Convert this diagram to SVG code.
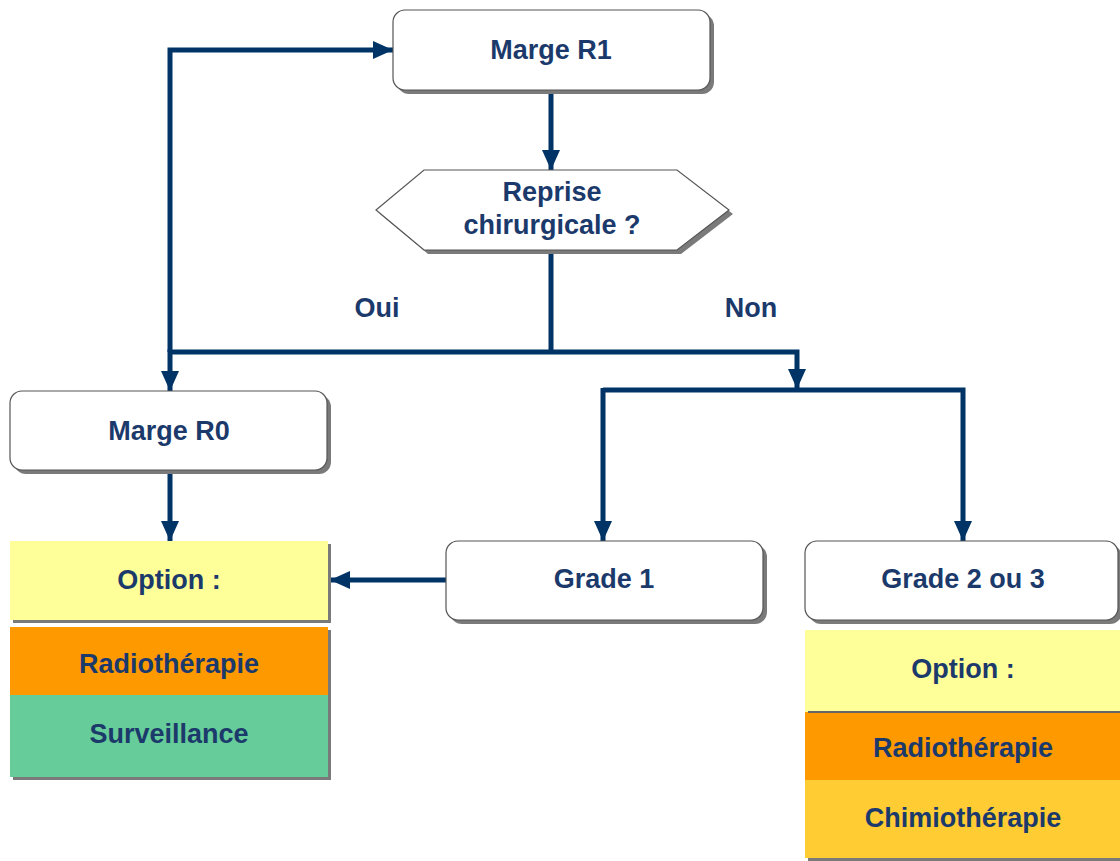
<svg xmlns="http://www.w3.org/2000/svg" width="1120" height="861" viewBox="0 0 1120 861">
  <style>
    .lbl { font-family: "Liberation Sans", Arial, sans-serif; font-weight: bold; font-size: 27px; fill: #1b3a6b; text-anchor: middle; dominant-baseline: central; }
    .box { fill: #ffffff; stroke: #555555; stroke-width: 1.2; }
    .shadow { fill: #7a7a7a; }
    .wire { fill: none; stroke: #003366; stroke-width: 5; stroke-linejoin: miter; }
  </style>
  <defs>
    <marker id="arrow" viewBox="0 0 20 20" refX="20" refY="10" markerWidth="20" markerHeight="20" markerUnits="userSpaceOnUse" orient="auto">
      <path d="M0,1 L20,10 L0,19 Z" fill="#003366"/>
    </marker>
  </defs>
  <rect width="1120" height="861" fill="#ffffff"/>

  <!-- connectors -->
  <g id="connectors">
    <path class="wire" d="M551,90 V170" marker-end="url(#arrow)"/>
    <path class="wire" d="M551,250 V352"/>
    <path class="wire" d="M551,352 H170 V391" marker-end="url(#arrow)"/>
    <path class="wire" d="M551,352 H797 V389" marker-end="url(#arrow)"/>
    <path class="wire" d="M170,352 V50 H393" marker-end="url(#arrow)"/>
    <path class="wire" d="M603,390 H963 V541" marker-end="url(#arrow)"/>
    <path class="wire" d="M603,388 V541" marker-end="url(#arrow)"/>
    <path class="wire" d="M170,470 V541" marker-end="url(#arrow)"/>
    <path class="wire" d="M446,580 H330" marker-end="url(#arrow)"/>
    <text class="lbl" x="377" y="308">Oui</text>
    <text class="lbl" x="751" y="308">Non</text>
  </g>

  <!-- Marge R1 -->
  <g id="marge-r1">
    <rect class="shadow" x="397" y="14" width="317" height="80" rx="12"/>
    <rect class="box" x="393" y="10" width="317" height="80" rx="12"/>
    <text class="lbl" x="551" y="50">Marge R1</text>
  </g>

  <!-- Reprise chirurgicale ? -->
  <g id="reprise">
    <polygon class="shadow" points="428,174 681,174 733,214 681,254 428,254 380,214"/>
    <polygon class="box" points="424,170 677,170 729,210 677,250 424,250 376,210"/>
    <text class="lbl" x="552" y="192">Reprise</text>
    <text class="lbl" x="552" y="225">chirurgicale ?</text>
  </g>

  <!-- Marge R0 -->
  <g id="marge-r0">
    <rect class="shadow" x="14" y="395" width="317" height="79" rx="12"/>
    <rect class="box" x="10" y="391" width="317" height="79" rx="12"/>
    <text class="lbl" x="169" y="431">Marge R0</text>
  </g>

  <!-- Grade 1 -->
  <g id="grade-1">
    <rect class="shadow" x="450" y="545" width="317" height="79" rx="12"/>
    <rect class="box" x="446" y="541" width="317" height="79" rx="12"/>
    <text class="lbl" x="604" y="579">Grade 1</text>
  </g>

  <!-- Grade 2 ou 3 -->
  <g id="grade-2-3">
    <rect class="shadow" x="809" y="545" width="313" height="79" rx="12"/>
    <rect class="box" x="805" y="541" width="313" height="79" rx="12"/>
    <text class="lbl" x="963" y="579">Grade 2 ou 3</text>
  </g>

  <!-- Options after Marge R0 / Grade 1 -->
  <g id="options-left">
    <rect class="shadow" x="13" y="544" width="318" height="79"/>
    <rect x="10" y="541" width="318" height="79" fill="#ffff99"/>
    <text class="lbl" x="169" y="580">Option :</text>
    <rect class="shadow" x="13" y="630" width="318" height="150"/>
    <rect x="10" y="627" width="318" height="68" fill="#ff9900"/>
    <text class="lbl" x="169" y="664">Radiothérapie</text>
    <rect x="10" y="695" width="318" height="82" fill="#66cc99"/>
    <text class="lbl" x="169" y="734">Surveillance</text>
  </g>

  <!-- Options after Grade 2 ou 3 -->
  <g id="options-right">
    <rect x="805" y="630" width="315" height="82" fill="#ffff99"/>
    <text class="lbl" x="963" y="669">Option :</text>
    <rect x="805" y="712" width="315" height="68" fill="#ff9900"/>
    <line x1="808" y1="712" x2="1120" y2="712" stroke="#666666" stroke-width="2"/>
    <text class="lbl" x="963" y="748">Radiothérapie</text>
    <rect class="shadow" x="808" y="782" width="312" height="79"/>
    <rect x="805" y="780" width="315" height="78" fill="#ffcc33"/>
    <text class="lbl" x="963" y="818">Chimiothérapie</text>
  </g>
</svg>
